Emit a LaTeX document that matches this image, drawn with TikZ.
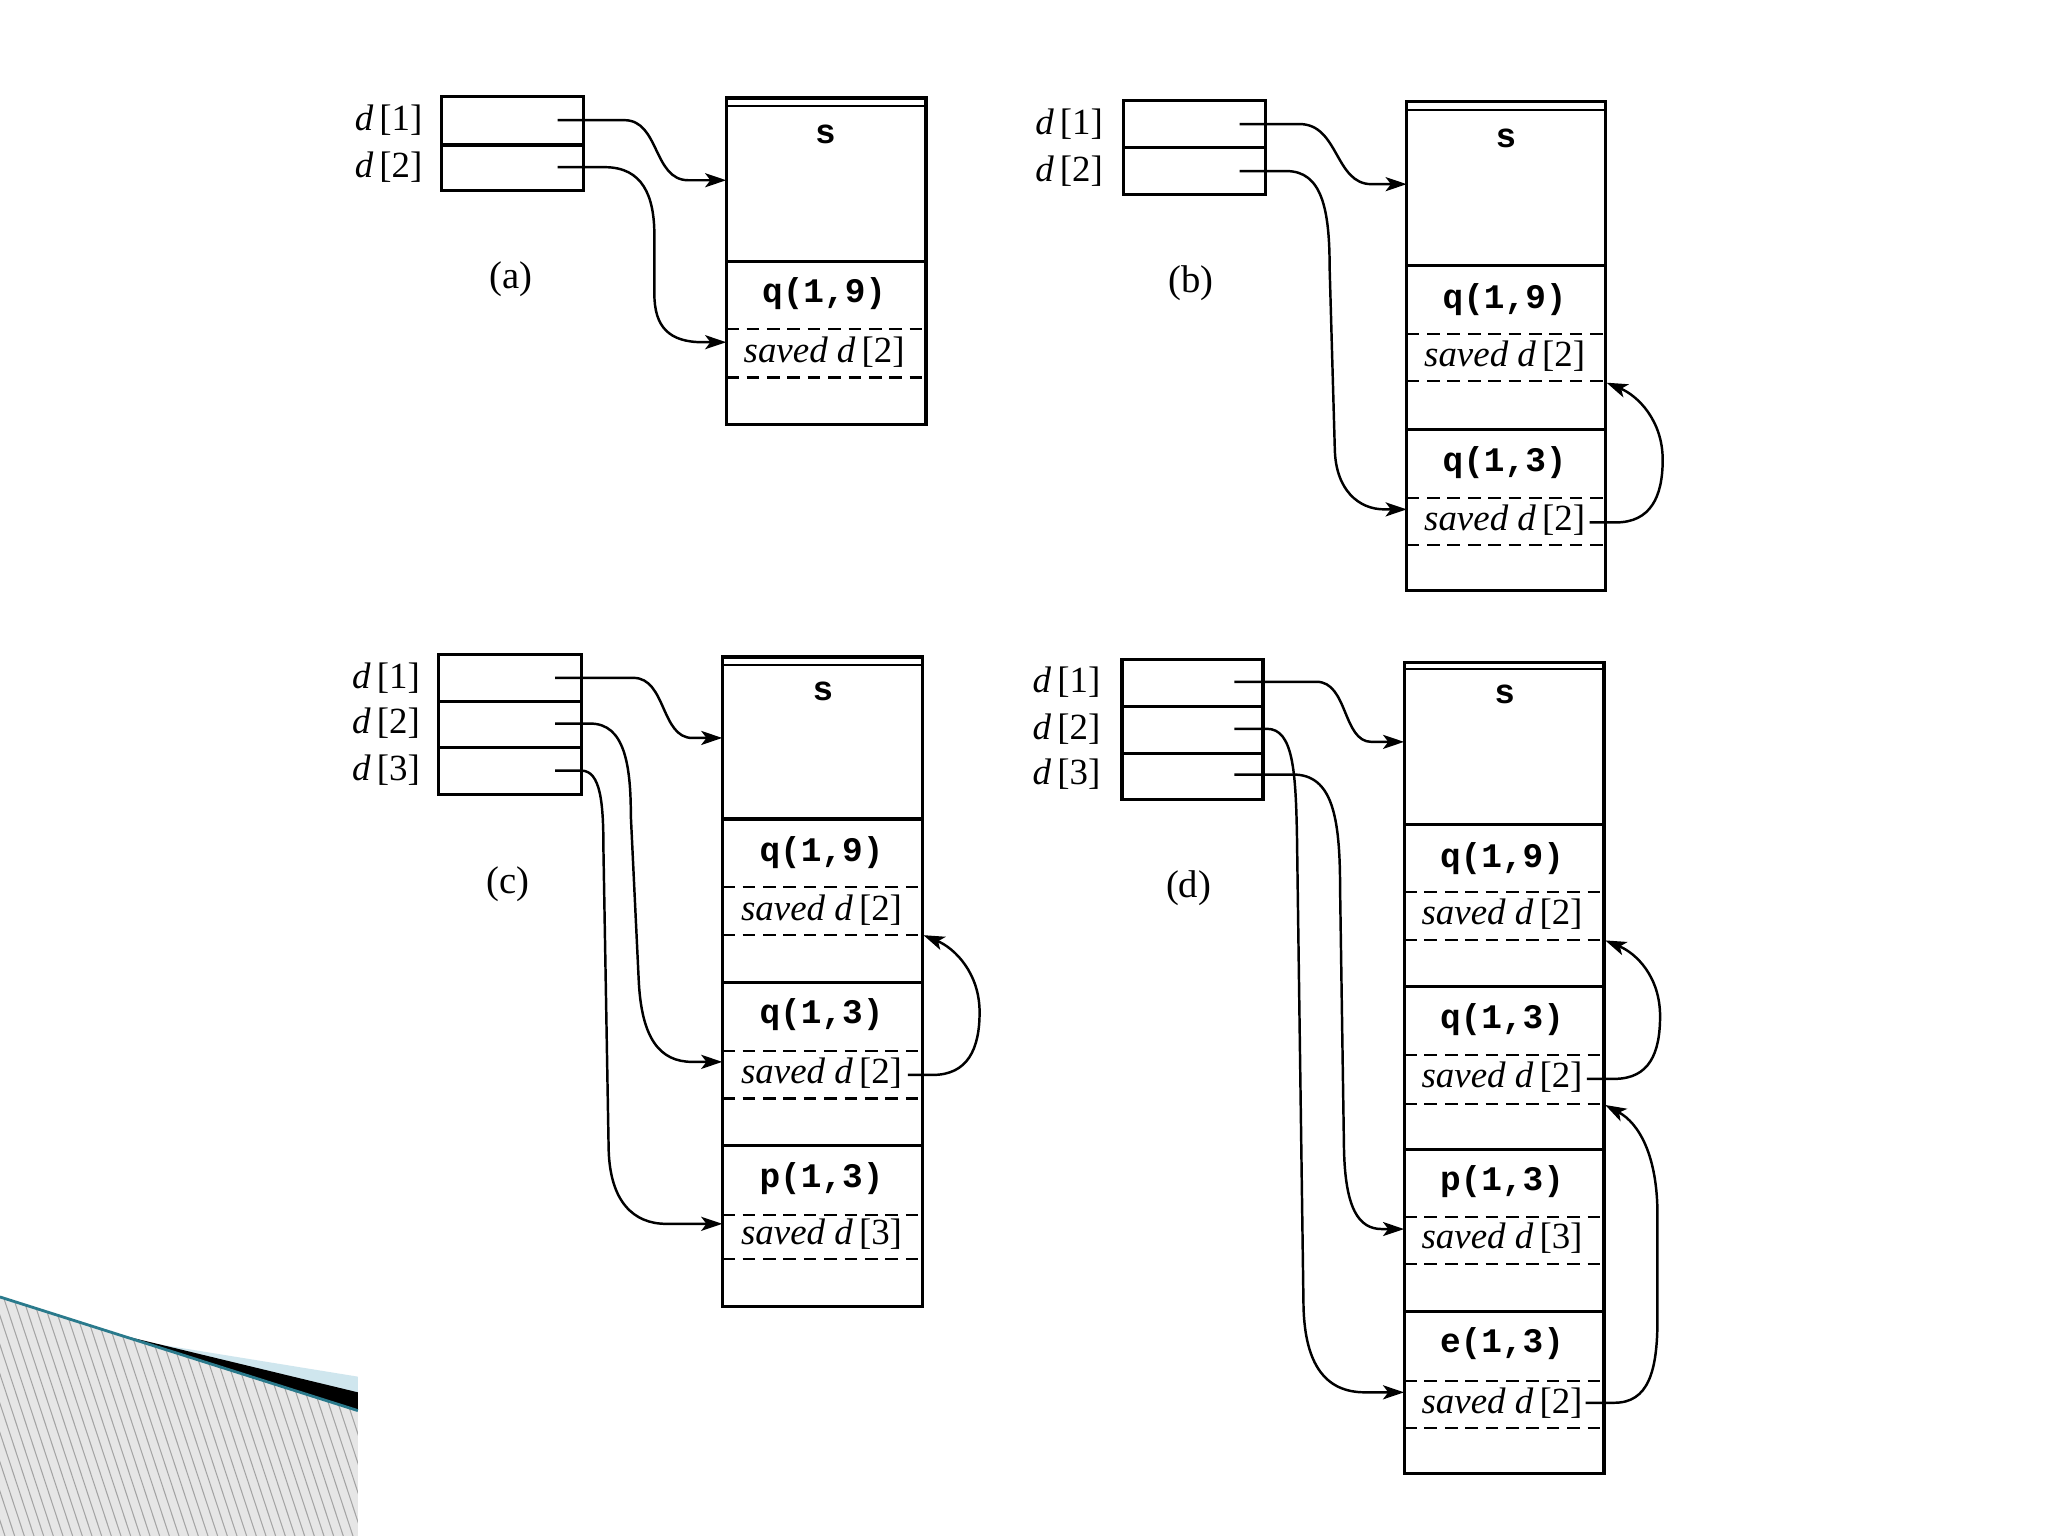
\documentclass[tikz,border=0pt]{standalone}
\usepackage{fontspec}
\setmainfont{Liberation Serif}
\setmonofont{Liberation Mono}
\usetikzlibrary{arrows.meta}
\definecolor{hatchbg}{HTML}{E6E6E6}
\definecolor{hatchln}{HTML}{A4A4A4}
\definecolor{tealln}{HTML}{2A7A8C}
\definecolor{lightbl}{HTML}{CFE6EE}
\begin{document}
\begin{tikzpicture}[x=0.01306cm,y=-0.01306cm,
  box/.style={line width=0.9pt},
  thinbox/.style={line width=0.6pt},
  dsh/.style={line width=0.6pt,dash pattern=on 3.6pt off 2.2pt},
  ptr/.style={line width=0.7pt,-{Stealth[length=6pt,width=4pt,inset=1.5pt]}},
  lbl/.style={font=\fontsize{10.5}{12}\selectfont, anchor=east, inner sep=0pt},
  fr/.style={font=\fontsize{9.8}{11}\selectfont\ttfamily\bfseries, inner sep=0pt},
  sv/.style={font=\fontsize{10.5}{12}\selectfont, inner sep=0pt},
  captxt/.style={font=\fontsize{11}{13}\selectfont, inner sep=0pt}]
\useasboundingbox (0,0) rectangle (1568,1176);
\fill[white] (0,0) rectangle (1568,1176);

% ---------------- decoration bottom left
\begin{scope}
\clip (0,993) -- (274,1080) -- (274,1176) -- (0,1176) -- cycle;
\fill[hatchbg] (0,980) rectangle (280,1180);
\foreach \i in {-12,...,42} \draw[hatchln,line width=0.3pt] (\i*7.4,985) -- ++(66,200);
\end{scope}
\fill[lightbl] (120,1029) -- (274,1054) -- (274,1067) -- cycle;
\fill[black] (92,1022) -- (274,1066) -- (274,1080) -- cycle;
\draw[tealln,line width=0.8pt] (0,993) -- (274,1080);

% ================= panel (a)
\node[lbl] (a-l1) at (324,92) {\textit{d}\,[1]};
\node[lbl] (a-l2) at (324,128) {\textit{d}\,[2]};
\draw[box] (338,74) rectangle (447,146);
\draw[box] (338,111) -- (447,111);
\coordinate (a-p1) at (427,92);
\coordinate (a-p2) at (427,128);
\draw[box] (556,75) rectangle (709,325);
\draw[thinbox] (556,81) -- (709,81);
\draw[box] (556,200) -- (709,200);
\draw[dsh] (556,252) -- (709,252);
\draw[dsh] (556,289) -- (709,289);
\node[fr] (a-s) at (632,103) {s};
\node[fr] (a-f1) at (631,225) {q(1,9)};
\node[sv] (a-v1) at (631,270) {\textit{saved d}\,[2]};
\coordinate (a-t1) at (556,138);
\coordinate (a-t2) at (556,262);
\node[captxt] (a-c) at (391,214) {(a)};
\draw[ptr] (a-p1) -- (478,92) .. controls (505,92) and (500,138) .. (527,138) -- (a-t1);
\draw[ptr] (a-p2) -- (463,128) .. controls (492,128) and (501,150) .. (501,180) -- (501,225) .. controls (501,250) and (512,262) .. (538,262) -- (a-t2);

% ================= panel (b)
\node[lbl] (b-l1) at (845,95) {\textit{d}\,[1]};
\node[lbl] (b-l2) at (845,131) {\textit{d}\,[2]};
\draw[box] (860,77) rectangle (969,149);
\draw[box] (860,113) -- (969,113);
\coordinate (b-p1) at (949,95);
\coordinate (b-p2) at (949,131);
\draw[box] (1077,78) rectangle (1229,452);
\draw[thinbox] (1077,84) -- (1229,84);
\draw[box] (1077,203) -- (1229,203);
\draw[box] (1077,329) -- (1229,329);
\draw[dsh] (1077,256) -- (1229,256);
\draw[dsh] (1077,292) -- (1229,292);
\draw[dsh] (1077,381) -- (1229,381);
\draw[dsh] (1077,417) -- (1229,417);
\node[fr] (b-s) at (1153,106) {s};
\node[fr] (b-f1) at (1152,229) {q(1,9)};
\node[sv] (b-v1) at (1152,273) {\textit{saved d}\,[2]};
\node[fr] (b-f2) at (1152,354) {q(1,3)};
\node[sv] (b-v2) at (1152,398) {\textit{saved d}\,[2]};
\coordinate (b-t1) at (1077,141);
\coordinate (b-t2) at (1077,390);
\coordinate (b-o) at (1217,400);
\coordinate (b-i) at (1230,293);
\node[captxt] (b-c) at (912,217) {(b)};
\draw[ptr] (b-p1) -- (995,95) .. controls (1025,95) and (1022,141) .. (1050,141) -- (b-t1);
\draw[ptr] (b-p2) -- (985,131) .. controls (1012,131) and (1018,160) .. (1018,205) -- (1022,345) .. controls (1023,375) and (1040,390) .. (1060,390) -- (b-t2);
\draw[ptr] (b-o) -- (1237,400) .. controls (1264,400) and (1273,380) .. (1273,352) .. controls (1273,322) and (1254,303) .. (b-i);

% ================= panel (c)
\node[lbl] (c-l1) at (322,519) {\textit{d}\,[1]};
\node[lbl] (c-l2) at (322,554) {\textit{d}\,[2]};
\node[lbl] (c-l3) at (322,590) {\textit{d}\,[3]};
\draw[box] (336,501) rectangle (445,608);
\draw[box] (336,537) -- (445,537);
\draw[box] (336,572) -- (445,572);
\coordinate (c-p1) at (425,519);
\coordinate (c-p2) at (425,554);
\coordinate (c-p3) at (425,590);
\draw[box] (553,503) rectangle (706,1000);
\draw[thinbox] (553,509) -- (706,509);
\draw[box] (553,627) -- (706,627);
\draw[box] (553,752) -- (706,752);
\draw[box] (553,877) -- (706,877);
\draw[dsh] (553,679) -- (706,679);
\draw[dsh] (553,716) -- (706,716);
\draw[dsh] (553,805) -- (706,805);
\draw[dsh] (553,841) -- (706,841);
\draw[dsh] (553,930) -- (706,930);
\draw[dsh] (553,964) -- (706,964);
\node[fr] (c-s) at (630,529) {s};
\node[fr] (c-f1) at (629,653) {q(1,9)};
\node[sv] (c-v1) at (629,697) {\textit{saved d}\,[2]};
\node[fr] (c-f2) at (629,777) {q(1,3)};
\node[sv] (c-v2) at (629,822) {\textit{saved d}\,[2]};
\node[fr] (c-f3) at (629,902) {p(1,3)};
\node[sv] (c-v3) at (629,945) {\textit{saved d}\,[3]};
\coordinate (c-t1) at (553,565);
\coordinate (c-t2) at (553,813);
\coordinate (c-t3) at (553,937);
\coordinate (c-o) at (695,823);
\coordinate (c-i) at (707,716);
\node[captxt] (c-c) at (389,677) {(c)};
\draw[ptr] (c-p1) -- (485,519) .. controls (510,519) and (506,565) .. (530,565) -- (c-t1);
\draw[ptr] (c-p2) -- (452,554) .. controls (478,554) and (483,585) .. (483,625) -- (489,750) .. controls (491,795) and (505,813) .. (530,813) -- (c-t2);
\draw[ptr] (c-p3) -- (445,590) .. controls (460,590) and (462,615) .. (462,650) -- (466,880) .. controls (467,920) and (485,937) .. (510,937) -- (c-t3);
\draw[ptr] (c-o) -- (714,823) .. controls (741,823) and (750,803) .. (750,775) .. controls (750,745) and (731,726) .. (c-i);

% ================= panel (d)
\node[lbl] (d-l1) at (843,522) {\textit{d}\,[1]};
\node[lbl] (d-l2) at (843,558) {\textit{d}\,[2]};
\node[lbl] (d-l3) at (843,593) {\textit{d}\,[3]};
\draw[box] (859,505) rectangle (967,612);
\draw[box] (859,541) -- (967,541);
\draw[box] (859,577) -- (967,577);
\coordinate (d-p1) at (945,522);
\coordinate (d-p2) at (945,558);
\coordinate (d-p3) at (945,593);
\draw[box] (1075,507) rectangle (1228,1128);
\draw[thinbox] (1075,512) -- (1228,512);
\draw[box] (1075,631) -- (1228,631);
\draw[box] (1075,755) -- (1228,755);
\draw[box] (1075,880) -- (1228,880);
\draw[box] (1075,1004) -- (1228,1004);
\draw[dsh] (1075,683) -- (1228,683);
\draw[dsh] (1075,720) -- (1228,720);
\draw[dsh] (1075,808) -- (1228,808);
\draw[dsh] (1075,845) -- (1228,845);
\draw[dsh] (1075,932) -- (1228,932);
\draw[dsh] (1075,968) -- (1228,968);
\draw[dsh] (1075,1057) -- (1228,1057);
\draw[dsh] (1075,1093) -- (1228,1093);
\node[fr] (d-s) at (1152,532) {s};
\node[fr] (d-f1) at (1150,657) {q(1,9)};
\node[sv] (d-v1) at (1150,700) {\textit{saved d}\,[2]};
\node[fr] (d-f2) at (1150,781) {q(1,3)};
\node[sv] (d-v2) at (1150,825) {\textit{saved d}\,[2]};
\node[fr] (d-f3) at (1150,905) {p(1,3)};
\node[sv] (d-v3) at (1150,948) {\textit{saved d}\,[3]};
\node[fr] (d-f4) at (1150,1029) {e(1,3)};
\node[sv] (d-v4) at (1150,1074) {\textit{saved d}\,[2]};
\coordinate (d-t1) at (1075,568);
\coordinate (d-t3) at (1075,941);
\coordinate (d-t2) at (1075,1066);
\coordinate (d-o1) at (1215,826);
\coordinate (d-i1) at (1229,720);
\coordinate (d-o2) at (1214,1074);
\coordinate (d-i2) at (1229,846);
\node[captxt] (d-c) at (910,680) {(d)};
\draw[ptr] (d-p1) -- (1008,522) .. controls (1032,522) and (1028,568) .. (1050,568) -- (d-t1);
\draw[ptr] (d-p2) -- (970,558) .. controls (990,558) and (992,590) .. (993,640) -- (998,1000) .. controls (999,1045) and (1015,1066) .. (1045,1066) -- (d-t2);
\draw[ptr] (d-p3) -- (990,593) .. controls (1020,593) and (1026,625) .. (1026,680) -- (1029,880) .. controls (1030,925) and (1040,941) .. (1058,941) -- (d-t3);
\draw[ptr] (d-o1) -- (1236,826) .. controls (1263,826) and (1271,806) .. (1271,778) .. controls (1271,748) and (1253,730) .. (d-i1);
\draw[ptr] (d-o2) -- (1236,1074) .. controls (1262,1074) and (1269,1050) .. (1269,1010) -- (1269,930) .. controls (1269,885) and (1255,860) .. (d-i2);
\end{tikzpicture}
\end{document}
